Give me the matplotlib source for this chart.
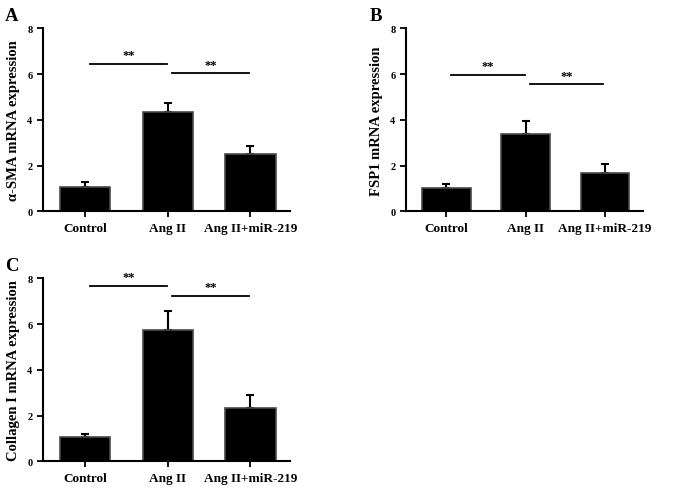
import matplotlib.pyplot as plt

plt.rcParams["font.family"] = ["Liberation Serif", "DejaVu Serif"]
plt.rcParams["font.weight"] = "bold"

groups = ["Control", "Ang II", "Ang II+miR-219"]

sma_mean = [1.04, 4.35, 2.50]
sma_sem = [0.24, 0.40, 0.35]
sma_sig = [6.46, 6.03]

fsp1_mean = [1.02, 3.38, 1.67]
fsp1_sem = [0.16, 0.55, 0.41]
fsp1_sig = [5.98, 5.55]

col_mean = [1.05, 5.75, 2.33]
col_sem = [0.14, 0.83, 0.55]
col_sig = [7.67, 7.23]


def draw_panel(ax, means, sems, sig_y, ylabel, letter):
    x = list(range(len(groups)))
    ax.bar(x, means, width=0.61, color="black", edgecolor="#4a4a4a",
           linewidth=1.2, zorder=2)
    ax.errorbar(x, means, yerr=[[0] * len(sems), sems], fmt="none",
                ecolor="black", elinewidth=1.5, capsize=3, capthick=1.5,
                zorder=1)
    # significance lines
    for (x1, x2), y in zip([(0.06, 0.99), (1.05, 1.98)], sig_y):
        ax.plot([x1, x2], [y, y], color="black", lw=1.3)
        ax.text((x1 + x2) / 2, y + 0.12, "**", ha="center", va="bottom",
                fontsize=9, fontweight="bold")
    ax.set_xlim(-0.51, 2.48)
    ax.set_ylim(0, 8)
    ax.set_yticks([0, 2, 4, 6, 8])
    ax.set_xticks(x)
    ax.set_xticklabels(groups, fontsize=9.5, fontweight="bold")
    ax.tick_params(axis="y", labelsize=7.5, width=1.3, length=4)
    ax.tick_params(axis="x", width=1.3, length=4)
    for lab in ax.get_yticklabels():
        lab.set_fontweight("bold")
    ax.spines["top"].set_visible(False)
    ax.spines["right"].set_visible(False)
    ax.spines["left"].set_linewidth(1.5)
    ax.spines["bottom"].set_linewidth(1.5)
    ax.set_ylabel(ylabel, fontsize=10.5, fontweight="bold", labelpad=5)
    ax.text(-0.155, 1.115, letter, transform=ax.transAxes, fontsize=13.5,
            fontweight="bold", ha="left", va="top")


fig = plt.figure(figsize=(6.77, 4.89), dpi=100)
ax_a = fig.add_axes([0.0635, 0.566, 0.365, 0.374])
ax_b = fig.add_axes([0.5997, 0.566, 0.350, 0.374])
ax_c = fig.add_axes([0.0635, 0.0546, 0.365, 0.374])

draw_panel(ax_a, sma_mean, sma_sem, sma_sig, "\u03b1-SMA mRNA expression", "A")
draw_panel(ax_b, fsp1_mean, fsp1_sem, fsp1_sig, "FSP1 mRNA expression", "B")
draw_panel(ax_c, col_mean, col_sem, col_sig, "Collagen I mRNA expression", "C")

fig.savefig("out.png", dpi=100)
